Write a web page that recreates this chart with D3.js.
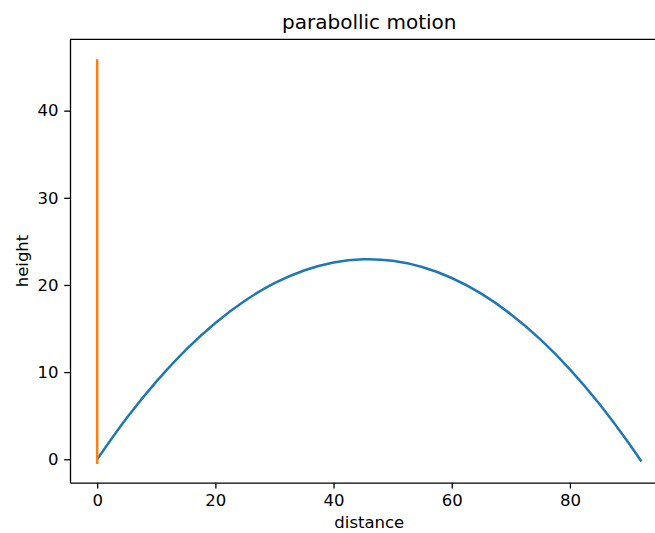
<!DOCTYPE html>
<html>
<head>
<meta charset="utf-8">
<script src="https://cdn.jsdelivr.net/npm/d3@7"></script>
<style>
  body { margin: 0; background: #fff; overflow: hidden; }
  svg { display: block; font-family: "DejaVu Sans", sans-serif; }
</style>
</head>
<body>
<script>
// values
const distance = [0, 5, 10, 15, 20, 25, 30, 35, 40, 45, 46, 50, 55, 60, 65, 70, 75, 80, 85, 90, 92.1];
const height = [0, 4.73, 8.91, 12.55, 15.64, 18.19, 20.2, 21.66, 22.58, 22.95, 22.96, 22.78, 22.06, 20.8, 19.0, 16.64, 13.75, 10.31, 6.33, 1.8, -0.26];
const lineX = [0, 0];
const lineY = [-0.55, 45.9];
const xTicks = [0, 20, 40, 60, 80];
const yTicks = [0, 10, 20, 30, 40];

const w = 655, h = 533;
const mLeft = 70, mTop = 39.3, mRight = 668.6, mBottom = 482.7;

const svg = d3.select("body").append("svg")
    .attr("width", w)
    .attr("height", h);

const x = d3.scaleLinear().domain([-4.6, 96.7]).range([mLeft, mRight]);
const y = d3.scaleLinear().domain([-2.69, 48.19]).range([mBottom, mTop]);

// title
svg.append("text")
    .attr("x", (mLeft + mRight) / 2)
    .attr("y", 29)
    .attr("text-anchor", "middle")
    .attr("font-size", 20)
    .text("parabollic motion");

// axes
const xAxis = svg.append("g")
    .attr("transform", `translate(0,${mBottom})`)
    .call(d3.axisBottom(x).tickValues(xTicks).tickSize(5.8).tickPadding(5.8).tickSizeOuter(0));
const yAxis = svg.append("g")
    .attr("transform", `translate(${mLeft},0)`)
    .call(d3.axisLeft(y).tickValues(yTicks).tickSize(5.8).tickPadding(5.8).tickSizeOuter(0));

[xAxis, yAxis].forEach(g => {
    g.selectAll("text").attr("font-size", 16.5).attr("font-family", "DejaVu Sans").attr("fill", "#000");
    g.selectAll("line").attr("stroke", "#000").attr("stroke-width", 1.3);
    g.select(".domain").attr("stroke", "#000").attr("stroke-width", 1.3);
});

// top spine (right spine falls outside the picture)
svg.append("line")
    .attr("x1", mLeft).attr("x2", mRight)
    .attr("y1", mTop).attr("y2", mTop)
    .attr("stroke", "#000").attr("stroke-width", 1.3);

// axis labels
svg.append("text")
    .attr("x", (mLeft + mRight) / 2)
    .attr("y", 528)
    .attr("text-anchor", "middle")
    .attr("font-size", 16.5)
    .text("distance");
svg.append("text")
    .attr("transform", `translate(28,${(mTop + mBottom) / 2}) rotate(-90)`)
    .attr("text-anchor", "middle")
    .attr("font-size", 16.5)
    .text("height");

const line = d3.line()
    .x(d => x(d[0]))
    .y(d => y(d[1]))
    .curve(d3.curveMonotoneX);

svg.append("path")
    .datum(d3.zip(distance, height))
    .attr("fill", "none")
    .attr("stroke", "#1f77b4")
    .attr("stroke-width", 2.5)
    .attr("d", line);

svg.append("path")
    .datum(d3.zip(lineX, lineY))
    .attr("fill", "none")
    .attr("stroke", "#ff7f0e")
    .attr("stroke-width", 2.5)
    .attr("d", d3.line().x(d => x(d[0])).y(d => y(d[1])));
</script>
</body>
</html>
